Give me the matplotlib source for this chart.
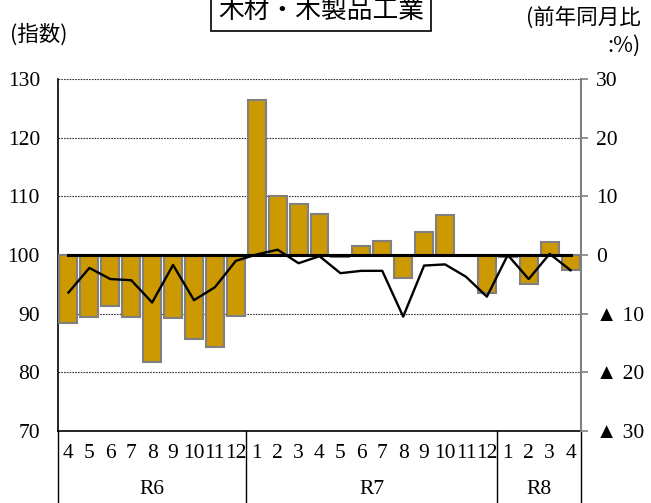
import matplotlib
matplotlib.use('Agg')
import matplotlib.pyplot as plt
import numpy as np

# months / fiscal-year labels
months = ['4', '5', '6', '7', '8', '9', '10', '11', '12',
          '1', '2', '3', '4', '5', '6', '7', '8', '9', '10', '11', '12',
          '1', '2', '3', '4']
years = ['R6', 'R7', 'R8']
year_len = [9, 12, 4]

# 前年同月比 (%) -> bars, right axis
yoy = [-11.6, -10.5, -8.7, -10.5, -18.3, -10.8, -14.4, -15.6, -10.4,
       26.5, 10.1, 8.7, 7.0, -0.4, 1.6, 2.4, -4.0, 4.0, 6.8, -0.1, -6.5,
       -0.4, -4.9, 2.2, -2.6]
# 指数 -> line, left axis
index = [93.6, 97.8, 95.9, 95.7, 91.9, 98.3, 92.3, 94.5, 99.0,
         100.1, 100.9, 98.6, 99.8, 96.9, 97.3, 97.3, 89.5, 98.2, 98.4, 96.3, 92.9,
         100.0, 95.9, 100.2, 97.4]

left_ticks = [70, 80, 90, 100, 110, 120, 130]
right_ticks = [-30, -20, -10, 0, 10, 20, 30]
right_labels = ['▲ 30', '▲ 20', '▲ 10', '0', '10', '20', '30']

num_font = ['Liberation Serif', 'Noto Sans CJK JP']
jp_font = ['Noto Sans CJK JP', 'DejaVu Sans']
fs = 15.5

W, H = 651, 503
fig = plt.figure(figsize=(W / 100, H / 100), dpi=100)
L, R, T, B = 58, 581, 79, 431
ax = fig.add_axes([L / W, 1 - B / H, (R - L) / W, (B - T) / H])
x = np.arange(len(months))

# left axis: grid + labels
ax.set_xlim(-0.5, len(months) - 0.5)
ax.set_ylim(70, 130)
ax.set_yticks(left_ticks)
ax.set_yticklabels([str(v) for v in left_ticks], family=num_font, fontsize=fs)
ax.tick_params(axis='y', length=0, pad=13)
ax.set_xticks([])
ax.yaxis.grid(True, color='#333333', linestyle=(0, (1.5, 1)), linewidth=0.8)
for s in ['top', 'right']:
    ax.spines[s].set_visible(False)
ax.spines['left'].set_color('black')
ax.spines['left'].set_linewidth(1.2)
ax.spines['bottom'].set_color('black')
ax.spines['bottom'].set_linewidth(1.2)

# right axis: bars
ax2 = ax.twinx()
ax2.set_ylim(-30, 30)
ax2.bar(x, yoy, width=0.86, color='#CC9900', edgecolor='#808080', linewidth=1.5)
ax2.set_yticks(right_ticks)
ax2.set_yticklabels(right_labels, family=num_font, fontsize=fs)
ax2.tick_params(axis='y', direction='out', length=5, color='#808080', width=1.2, pad=6)
for s in ['top', 'left', 'bottom']:
    ax2.spines[s].set_visible(False)
ax2.spines['right'].set_color('#808080')
ax2.spines['right'].set_linewidth(1.5)

# line layer on the left scale
ax3 = ax.twinx()
ax3.set_ylim(70, 130)
ax3.axis('off')
ax3.plot([x[0], x[-1]], [100, 100], color='black', linewidth=2.2)
ax3.plot(x, index, color='black', linewidth=1.7)

# category axis (month row / year row with separators)
tr = ax.get_xaxis_transform()
for i, m in enumerate(months):
    ax.text(i, -0.063, m, transform=tr, ha='center', va='center',
            family=num_font, fontsize=fs)
start = 0
bounds = [-0.5]
for yname, n in zip(years, year_len):
    ax.text(start + (n - 1) / 2, -0.165, yname, transform=tr, ha='center',
            va='center', family=num_font, fontsize=fs)
    start += n
    bounds.append(start - 0.5)
for b in bounds:
    ax.plot([b, b], [0, -0.21], transform=tr, color='black', linewidth=1,
            clip_on=False)

# titles
fig.text(10 / W, 1 - 35 / H, '(指数)', family=jp_font, fontsize=fs,
         ha='left', va='center')
fig.text(641 / W, 1 - 18 / H, '(前年同月比', family=jp_font, fontsize=fs,
         ha='right', va='center')
fig.text(641 / W, 1 - 46 / H, ':%)', family=jp_font, fontsize=fs,
         ha='right', va='center')
fig.text(321 / W, 1 - 11 / H, '木材・木製品工業', family=jp_font, fontsize=18.5,
         ha='center', va='center',
         bbox=dict(facecolor='white', edgecolor='black', linewidth=1.2, pad=5))

fig.savefig('out.png', dpi=100)
